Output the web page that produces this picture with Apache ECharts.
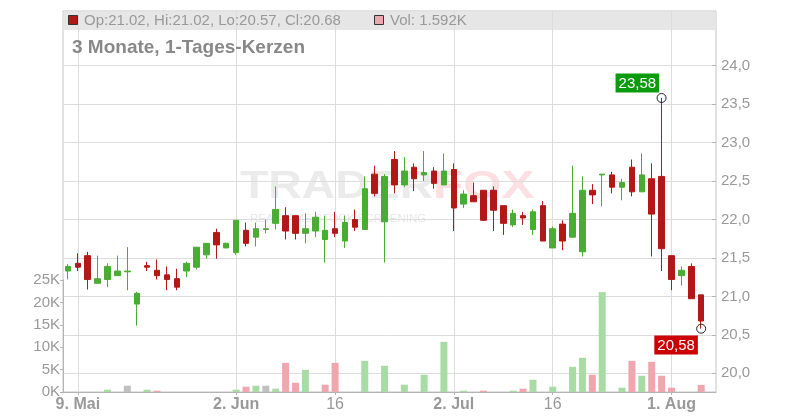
<!DOCTYPE html>
<html><head><meta charset="utf-8">
<script src="https://cdn.jsdelivr.net/npm/echarts@6/dist/echarts.min.js"></script>
<style>html,body{margin:0;padding:0;background:#fff}#c{width:800px;height:420px}</style>
</head><body><div id="c"></div>
<script>
// ---------- DATA ----------
const dates = [
 '2025-05-08','2025-05-09','2025-05-12','2025-05-13','2025-05-14','2025-05-15','2025-05-16',
 '2025-05-19','2025-05-20','2025-05-21','2025-05-22','2025-05-23',
 '2025-05-26','2025-05-27','2025-05-28','2025-05-29','2025-05-30',
 '2025-06-02','2025-06-03','2025-06-04','2025-06-05','2025-06-06',
 '2025-06-09','2025-06-10','2025-06-11','2025-06-12','2025-06-13',
 '2025-06-16','2025-06-17','2025-06-18','2025-06-19','2025-06-20',
 '2025-06-23','2025-06-24','2025-06-25','2025-06-26','2025-06-27','2025-06-30',
 '2025-07-01','2025-07-02','2025-07-03','2025-07-04',
 '2025-07-07','2025-07-08','2025-07-09','2025-07-10','2025-07-11',
 '2025-07-14','2025-07-15','2025-07-16','2025-07-17','2025-07-18',
 '2025-07-21','2025-07-22','2025-07-23','2025-07-24','2025-07-25',
 '2025-07-28','2025-07-29','2025-07-30','2025-07-31',
 '2025-08-01','2025-08-04','2025-08-05','2025-08-06','2025-08-07'
];
const opens = [21.33,21.43,21.53,21.17,21.22,21.27,21.32,20.90,21.40,21.34,21.28,21.23,21.33,21.38,21.54,21.83,21.63,
 21.57,21.86,21.77,21.87,21.95,22.05,22.05,21.82,21.85,21.74,21.88,21.72,22.00,21.87,22.59,21.97,22.78,22.45,22.68,22.58,22.63,
 22.45,22.65,22.20,22.31,22.38,22.38,22.18,21.93,22.05,21.87,22.18,21.63,21.94,21.77,21.58,22.38,22.58,22.58,22.42,22.68,22.36,22.53,22.56,
 21.53,21.27,21.39,21.02];
const highs = [21.42,21.56,21.58,21.53,21.43,21.53,21.64,21.06,21.45,21.48,21.39,21.36,21.45,21.64,21.69,21.88,21.70,
 21.99,21.96,21.96,22.00,22.43,22.16,22.05,22.08,22.10,22.05,22.10,22.05,22.13,22.56,22.70,22.59,22.89,22.81,22.73,22.89,22.68,
 22.86,22.73,22.38,22.48,22.38,22.43,22.18,22.13,22.10,22.13,22.24,21.91,21.99,22.70,22.56,22.46,22.59,22.62,22.53,22.78,22.86,22.73,23.58,
 21.53,21.39,21.43,21.02];
const lows = [21.22,21.33,21.09,21.17,21.12,21.27,21.08,20.62,21.33,21.22,21.08,21.08,21.25,21.35,21.49,21.49,21.63,
 21.54,21.65,21.65,21.82,21.87,21.74,21.74,21.69,21.77,21.44,21.77,21.63,21.85,21.87,22.30,21.44,22.34,22.42,22.37,22.50,22.40,
 22.45,21.85,22.15,22.23,21.98,21.85,21.80,21.90,21.93,21.80,21.72,21.63,21.60,21.77,21.52,22.20,22.17,22.34,22.25,22.30,22.36,21.52,21.33,
 21.08,21.14,20.97,20.58];
const closes = [21.39,21.38,21.22,21.23,21.39,21.33,21.33,21.04,21.38,21.27,21.22,21.12,21.43,21.64,21.69,21.67,21.69,
 21.99,21.69,21.88,21.88,22.13,21.85,21.82,21.88,22.03,21.86,21.82,21.96,21.90,22.40,22.34,22.56,22.45,22.63,22.53,22.61,22.47,
 22.63,22.15,22.33,22.23,21.99,22.12,21.95,22.08,22.02,22.10,21.72,21.88,21.72,22.08,22.38,22.32,22.59,22.42,22.48,22.36,22.58,22.07,21.62,
 21.22,21.34,20.97,20.68];
const volumes = [0,0,0,0,520,0,1400,0,520,300,0,0,0,0,0,0,0,
 520,1200,1400,1400,740,6500,2070,4960,0,1630,6500,0,0,6960,0,5850,0,1630,0,3850,0,
 11200,0,300,0,300,0,0,300,740,2740,0,1190,0,5630,7630,3850,22300,0,960,6960,3630,6740,3630,
 960,0,0,1592];
const tickDates = ['2025-05-09','2025-06-02','2025-06-16','2025-07-02','2025-07-16','2025-08-01'];
const tickTexts = ['9. Mai','2. Jun','16','2. Jul','16','1. Aug'];
const tickBold  = [true,true,false,true,false,true];
const priceMin = 19.5, priceMax = 24.5, priceStep = 0.5;
const volMax = 25000, volStep = 5000;
const legendOHLC = [21.02, 21.02, 20.57, 20.68];
const legendVol = '1.592K';
const titleText = '3 Monate, 1-Tages-Kerzen';
const highMarkDate = '2025-07-31', highMarkValue = 23.58;
const lowMarkDate = '2025-08-06', lowMarkValue = 20.58;

// ---------- CHART ----------
const FONT = "'Liberation Sans', Arial, Helvetica, sans-serif";
const UP = '#48ad32', DOWN = '#b31818';
const V_UP = '#a9dca4', V_DOWN = '#f0a6ae', V_FLAT = '#c0c0c0';
const GRIDC = '#dcdcdc', AXISC = '#b4b4b4', TXT = '#999';
const L = 63, R = 84, B = 28;

const fmtDE = v => v.toFixed(2).replace('.', ',');
const candleData = dates.map((d, i) => i < opens.length ? [opens[i], closes[i], lows[i], highs[i]] : '-');
const volData = dates.map((d, i) => {
  if (i >= volumes.length) return '-';
  let c = V_FLAT;
  if (i > 0) c = closes[i] > closes[i-1] ? V_UP : (closes[i] < closes[i-1] ? V_DOWN : V_FLAT);
  return { value: volumes[i], itemStyle: { color: c } };
});
const isTick = (idx, val) => tickDates.indexOf(val) >= 0;

const chart = echarts.init(document.getElementById('c'), null, { renderer: 'canvas' });
chart.setOption({
  animation: false,
  backgroundColor: '#fff',
  textStyle: { fontFamily: FONT },
  grid: [
    { left: L, right: R, top: 27.25, bottom: 8.25 },
    { left: L, right: R, top: 280, bottom: B },
    { left: L, right: R, top: 11, bottom: B, show: true, borderColor: '#c4c4c4', borderWidth: 1, backgroundColor: 'transparent' }
  ],
  xAxis: [
    { type: 'category', gridIndex: 0, data: dates, boundaryGap: true, show: false },
    { type: 'category', gridIndex: 1, data: dates, boundaryGap: true, show: false },
    { type: 'category', gridIndex: 2, data: dates, boundaryGap: true, z: 2,
      axisLine: { show: true, lineStyle: { color: AXISC, width: 1 } },
      axisTick: { show: true, interval: isTick, alignWithLabel: true, length: 3, lineStyle: { color: AXISC } },
      splitLine: { show: true, interval: isTick, alignWithLabel: true, lineStyle: { color: GRIDC, width: 1 } },
      axisLabel: {
        interval: isTick, margin: 5, color: TXT, fontSize: 16, fontFamily: FONT,
        formatter: v => { const k = tickDates.indexOf(v); if (k < 0) return ''; return tickBold[k] ? '{b|' + tickTexts[k] + '}' : '{n|' + tickTexts[k] + '}'; },
        rich: { b: { fontWeight: 'bold', fontSize: 16, color: TXT, fontFamily: FONT }, n: { fontSize: 16, color: TXT, fontFamily: FONT } }
      }
    }
  ],
  yAxis: [
    { type: 'value', gridIndex: 0, position: 'right', min: priceMin, max: priceMax, interval: priceStep, z: 0,
      axisLine: { show: false },
      axisTick: { show: true, inside: true, length: 4, lineStyle: { color: AXISC } },
      splitLine: { show: true, showMinLine: false, showMaxLine: false, lineStyle: { color: GRIDC, width: 1 } },
      axisLabel: { showMinLabel: false, showMaxLabel: false, margin: 5, color: TXT, fontSize: 15, fontFamily: FONT,
        formatter: v => v.toFixed(1).replace('.', ',') }
    },
    { type: 'value', gridIndex: 1, position: 'left', min: 0, max: volMax, interval: volStep,
      axisLine: { show: true, lineStyle: { color: AXISC } },
      axisTick: { show: true, length: 3, lineStyle: { color: AXISC } },
      splitLine: { show: false },
      axisLabel: { margin: 3, color: TXT, fontSize: 15, fontFamily: FONT, formatter: v => (v / 1000) + 'K' }
    },
    { type: 'value', gridIndex: 2, show: false, min: 0, max: 1 }
  ],
  graphic: [
    { type: 'rect', z: 1, silent: true, shape: { x: 63.5, y: 11.5, width: 652, height: 18.5 }, style: { fill: '#e6e6e6' } },
    { type: 'rect', z: 1, silent: true, shape: { x: 700, y: 393, width: 30, height: 27 }, style: { fill: '#fff' } },
    { type: 'text', z: -5, silent: true, x: 240, y: 188, scaleX: 1.22, style: { text: 'TRADER', x: 0, y: 0, fill: '#ebebeb', font: 'bold 38px ' + FONT, verticalAlign: 'middle' } },
    { type: 'text', z: -5, silent: true, x: 433, y: 188, scaleX: 1.3, style: { text: 'FOX', x: 0, y: 0, fill: '#fbdfe2', font: 'bold 38px ' + FONT, verticalAlign: 'middle' } },
    { type: 'text', z: -5, silent: true, x: 250, y: 219, scaleX: 1.05, style: { text: 'REAL-TIME STOCK SCREENING', x: 0, y: 0, fill: '#e8e8e8', font: '11px ' + FONT, verticalAlign: 'middle' } },
    { type: 'rect', z: 10, silent: true, shape: { x: 68.5, y: 15.5, width: 9, height: 9 }, style: { fill: DOWN, stroke: '#333', lineWidth: 1 } },
    { type: 'text', z: 10, silent: true, x: 84, y: 20.5, style: { text: 'Op:' + legendOHLC[0].toFixed(2) + ', Hi:' + legendOHLC[1].toFixed(2) + ', Lo:' + legendOHLC[2].toFixed(2) + ', Cl:' + legendOHLC[3].toFixed(2), fill: TXT, font: '15px ' + FONT, verticalAlign: 'middle' } },
    { type: 'rect', z: 10, silent: true, shape: { x: 374.5, y: 15.5, width: 9, height: 9 }, style: { fill: V_DOWN, stroke: '#333', lineWidth: 1 } },
    { type: 'text', z: 10, silent: true, x: 390, y: 20.5, style: { text: 'Vol: ' + legendVol, fill: TXT, font: '15px ' + FONT, verticalAlign: 'middle' } },
    { type: 'text', z: 10, silent: true, x: 72, y: 48, style: { text: titleText, fill: '#888', font: 'bold 19px ' + FONT, verticalAlign: 'middle' } }
  ],
  series: [
    { type: 'bar', xAxisIndex: 1, yAxisIndex: 1, data: volData, barWidth: 7, z: 3, silent: true },
    { type: 'candlestick', xAxisIndex: 0, yAxisIndex: 0, data: candleData, barWidth: 6, z: 4, silent: true,
      itemStyle: { color: UP, color0: DOWN, borderColor: UP, borderColor0: DOWN, borderWidth: 1 },
      markPoint: {
        silent: true, animation: false,
        data: [
          { coord: [highMarkDate, highMarkValue], symbol: 'circle', symbolSize: 9,
            itemStyle: { color: 'rgba(0,0,0,0)', borderColor: '#222', borderWidth: 1 },
            label: { show: true, formatter: fmtDE(highMarkValue), position: [2.5, -0.5], align: 'right', verticalAlign: 'bottom',
              backgroundColor: '#0c9b0c', color: '#fff', fontSize: 15, fontFamily: FONT, padding: [2, 3, 1, 3], lineHeight: 16 } },
          { coord: [lowMarkDate, lowMarkValue], symbol: 'circle', symbolSize: 9,
            itemStyle: { color: 'rgba(0,0,0,0)', borderColor: '#222', borderWidth: 1 },
            label: { show: true, formatter: fmtDE(lowMarkValue), position: [1.7, 11.8], align: 'right', verticalAlign: 'top',
              backgroundColor: '#cc0000', color: '#fff', fontSize: 15, fontFamily: FONT, padding: [2, 3, 1, 3], lineHeight: 16 } }
        ]
      }
    }
  ]
});
</script></body></html>
